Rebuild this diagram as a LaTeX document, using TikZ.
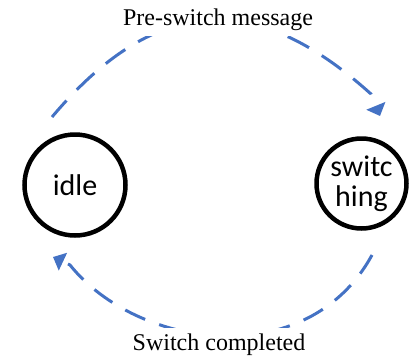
\documentclass[tikz,border=0pt]{standalone}
\usepackage{fontspec}
\setmainfont{Liberation Serif}
\newfontfamily\statefont{Carlito}
\usetikzlibrary{arrows.meta}
\definecolor{arcblue}{RGB}{68,114,196}
\tikzset{
  statenode/.style={circle, draw=black, line width=4.5pt, inner sep=0pt,
    font=\statefont\fontsize{30}{30}\selectfont, align=center},
  arcline/.style={draw=arcblue, line width=3pt, dash pattern=on 22pt off 15pt},
  transarc/.style={arcline, -{Triangle[length=11pt,width=19pt]}},
  transarcrev/.style={arcline, dash pattern=on 24pt off 15pt, dash phase=26pt,
    {Triangle[length=11pt,width=20pt]}-},
  arclabel/.style={fill=white, inner sep=6pt, font=\fontsize{24}{28}\selectfont}
}
\begin{document}
\begin{tikzpicture}[x=1pt,y=-1pt]
\useasboundingbox (0,0) rectangle (417,360);
\node[statenode, minimum size=101pt] (idle) at (75,185) {idle};
\node[statenode, minimum size=90pt] (sw) at (361.5,183.5) {switc\\hing};
\coordinate (ts) at (52,117);
\coordinate (tk) at (371,94);
\coordinate (te) at (380,116);
\coordinate (bs) at (372,255);
\coordinate (bk) at (70,265);
\coordinate (be) at (53,257);
\draw[transarcrev] (te) -- (tk) .. controls (267,0.4) and (165.3,-17.5) .. (ts);
\draw[transarc] (bs) .. controls (307.3,373.6) and (137.3,349.1) .. (bk) -- (be);
\node[arclabel] (top) at (218,19.4) {Pre-switch message};
\node[arclabel] (bot) at (219,345) {Switch completed};
\end{tikzpicture}
\end{document}
